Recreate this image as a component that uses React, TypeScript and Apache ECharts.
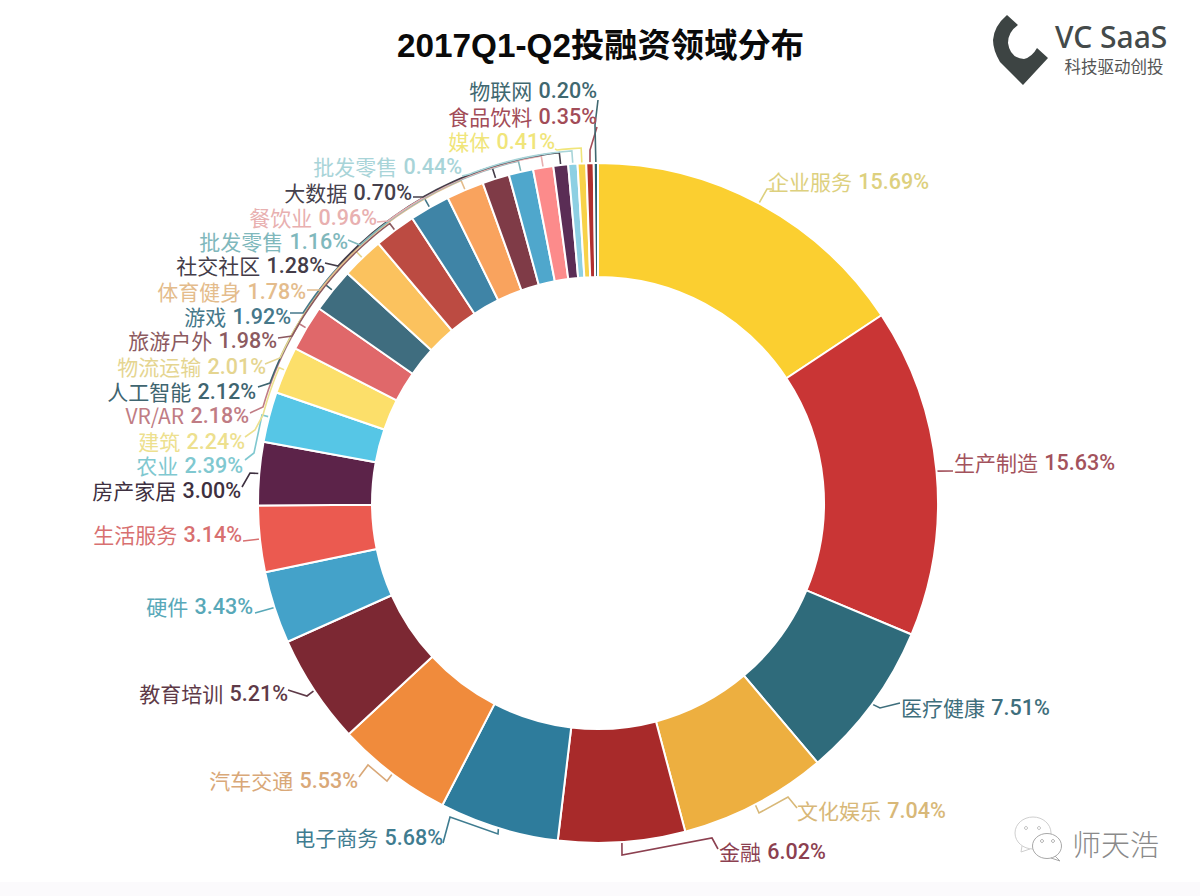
import React, { useEffect, useRef } from "react";
import * as echarts from "echarts";

const names = ["企业服务","生产制造","医疗健康","文化娱乐","金融","电子商务","汽车交通","教育培训","硬件","生活服务","房产家居","农业","建筑","VR/AR","人工智能","物流运输","旅游户外","游戏","体育健身","社交社区","批发零售","餐饮业","大数据","批发零售","媒体","食品饮料","物联网"];
const values = [15.69,15.63,7.51,7.04,6.02,5.68,5.53,5.21,3.43,3.14,3.0,2.39,2.24,2.18,2.12,2.01,1.98,1.92,1.78,1.28,1.16,0.96,0.7,0.44,0.41,0.35,0.2];
const sliceColors = ["#FBCF30","#C93535","#2F6B7B","#EDAF40","#A82A2A","#2E7C9C","#F08B3C","#7C2833","#44A2C9","#EB5A50","#5C2349","#56C6E6","#FCDF6A","#E0686A","#3F6D7F","#FBC25E","#BC4B42","#3F84A6","#F9A35E","#7F3B47","#4FA7CC","#FC8B8B","#5A2D55","#8DD0E3","#F8D249","#B0302F","#2B5F6E"];
const labelColors = ["#DDD07E","#A3525C","#3E6E7C","#D8B878","#8C4050","#3F7C90","#D9A878","#5E3A48","#58A8B8","#D87070","#3E3040","#80C8D0","#EDE08E","#C07C84","#3F6570","#E5D590","#8C5A60","#46788A","#E4BC8C","#443C48","#80B8BC","#E8B0B0","#45404C","#A8D4D8","#F0E57A","#A24C58","#3F6870"];

// Label anchors and leader routes (page pixels)
type Geo = { x: number; y: number; align: string; via: number[][]; arcTo?: number[] };
const labelGeo: Geo[] = [
  { x: 768, y: 181, align: "left", via: [[767,189],[772,189]] },
  { x: 954, y: 462, align: "left", via: [[953,471]] },
  { x: 901, y: 707, align: "left", via: [[880,708],[900,703]] },
  { x: 797, y: 810, align: "left", via: [[759,813],[788,797],[797,808]] },
  { x: 719, y: 851, align: "left", via: [[622,855],[712,838],[718,849]] },
  { x: 443, y: 837, align: "right", via: [[498,834],[450,817],[443,843]] },
  { x: 358, y: 780, align: "right", via: [[387,781],[368,765],[359,777]] },
  { x: 288, y: 693, align: "right", via: [[307,696],[288,690]] },
  { x: 253, y: 606, align: "right", via: [[255,613]] },
  { x: 242, y: 534, align: "right", via: [[243,541]] },
  { x: 241, y: 490, align: "right", via: [[250,473],[242,487]] },
  { x: 243, y: 465, align: "right", via: [[262,415],[254,453],[245,460]] },
  { x: 245, y: 441, align: "right", arcTo: [263,415], via: [[255,430],[245,437]] },
  { x: 249, y: 415, align: "right", arcTo: [263,407], via: [[250,413]] },
  { x: 256, y: 391, align: "right", arcTo: [270,383], via: [[258,387]] },
  { x: 266, y: 366, align: "right", arcTo: [280,358], via: [[265,364]] },
  { x: 277, y: 340, align: "right", arcTo: [292,336], via: [[278,338]] },
  { x: 291, y: 316, align: "right", arcTo: [303,313], via: [[290,313]] },
  { x: 306, y: 291, align: "right", arcTo: [320,290], via: [[307,290]] },
  { x: 325, y: 265, align: "right", arcTo: [338,266], via: [[325,263]] },
  { x: 348, y: 241, align: "right", arcTo: [360,245], via: [[348,240]] },
  { x: 377, y: 217, align: "right", arcTo: [388,221], via: [[377,222]] },
  { x: 412, y: 192, align: "right", arcTo: [423,197], via: [[413,197]] },
  { x: 462, y: 166, align: "right", arcTo: [470,174], via: [[462,176]] },
  { x: 555, y: 141, align: "right", arcTo: [557,150], via: [[555,149]] },
  { x: 597, y: 116, align: "right", via: [[590,150],[597,127]] },
  { x: 597, y: 90, align: "right", via: [[595,125],[598,100]] },
];

const CX = 598, CY = 503, R_OUT = 340, R_IN = 226;
const total = values.reduce((a, b) => a + b, 0);
const polar = (deg: number, r: number) => {
  const a = (deg * Math.PI) / 180;
  return [CX + r * Math.sin(a), CY - r * Math.cos(a)];
};
const midAngles = values.map((_, i) => {
  const before = values.slice(0, i).reduce((a, b) => a + b, 0);
  return ((before + values[i] / 2) / total) * 360;
});
const leaderPoints = (i: number) => {
  const g = labelGeo[i];
  const mid = midAngles[i];
  const pts: number[][] = [polar(mid, R_OUT)];
  if (g.arcTo) {
    const dx = g.arcTo[0] - CX, dy = g.arcTo[1] - CY;
    const r = Math.hypot(dx, dy);
    let end = (Math.atan2(dx, -dy) * 180) / Math.PI;
    if (end < 0) end += 360;
    pts.push(polar(mid, r));
    for (let a = mid - 1.5; a > end; a -= 1.5) pts.push(polar(a, r));
    pts.push(g.arcTo);
  }
  return pts.concat(g.via);
};

const FONT = "Roboto, 'Noto Sans CJK SC', sans-serif";
const CJK = "'Noto Sans CJK SC', sans-serif";

const logoPath = "M1007 15 L1018 25 Q1008 32 1008 43 Q1010 58 1024 59 Q1032 57 1037 48 L1048 58 L1023 85 L1000 62 Q993 50 993 40 Q994 26 1007 15 Z";
echarts.graphic.registerShape("vcLogo", echarts.graphic.extendPath(logoPath, {}) as any);

export default function App() {
  const ref = useRef<HTMLDivElement>(null);
  useEffect(() => {
    document.body.style.margin = "0";
    const chart = echarts.init(ref.current!, undefined, { renderer: "svg" });
    chart.setOption({
      animation: false,
      backgroundColor: "#ffffff",
      title: {
        text: "2017Q1-Q2投融资领域分布",
        left: 595.5,
        top: 24,
        textAlign: "center",
        textStyle: { fontFamily: "'Liberation Sans', 'Noto Sans CJK SC', sans-serif", fontWeight: "bold", fontSize: 33.3, color: "#0a0a0a" },
      },
      series: [
        {
          type: "pie",
          center: [CX, CY],
          radius: [R_IN, R_OUT],
          avoidLabelOverlap: false,
          silent: true,
          itemStyle: { borderColor: "#ffffff", borderWidth: 2 },
          label: {
            show: true,
            position: "outside",
            lineHeight: 22,
            rich: {
              n: { fontFamily: CJK, fontSize: 21, lineHeight: 22 },
              v: { fontFamily: FONT, fontSize: 21.5, fontWeight: 500, lineHeight: 22, padding: [0, 0, 0, 3] },
            },
          },
          labelLine: { show: true, smooth: false },
          labelLayout: (p: any) => {
            const i = p.dataIndex;
            const g = labelGeo[i];
            return { x: g.x, y: g.y, align: g.align, verticalAlign: "middle", labelLinePoints: leaderPoints(i) };
          },
          data: names.map((n, i) => ({
            name: n,
            value: values[i],
            itemStyle: { color: sliceColors[i] },
            label: {
              color: labelColors[i],
              formatter: `{n|${n}} {v|${values[i].toFixed(2)}%}`,
            },
            labelLine: { lineStyle: { color: labelColors[i], width: 1.6 } },
          })),
        },
      ],
      graphic: [
        { type: "rect", silent: true, shape: { x: 0, y: 882, width: 1200, height: 14 }, style: { fill: "#fbfafc" } },
        { type: "vcLogo", silent: true, x: 0, y: 0, style: { fill: "#3d4443" } },
        { type: "text", silent: true, x: 1055, y: 36, style: { text: "VC SaaS", font: "500 30px 'Noto Sans', sans-serif", fill: "#444a4a", verticalAlign: "middle" } },
        { type: "text", silent: true, x: 1114, y: 66, style: { text: "科技驱动创投", font: "16.5px 'Noto Sans CJK SC', sans-serif", fill: "#555", align: "center", verticalAlign: "middle" } },
        { type: "ellipse", silent: true, shape: { cx: 1033, cy: 833, rx: 18, ry: 16 }, style: { fill: "#fff", stroke: "#cfcfcf", lineWidth: 1 } },
        { type: "polyline", silent: true, shape: { points: [[1022,846],[1021,852],[1030,849]] }, style: { fill: "none", stroke: "#cfcfcf", lineWidth: 1 } },
        { type: "ellipse", silent: true, shape: { cx: 1047, cy: 846, rx: 14.5, ry: 12.5 }, style: { fill: "#fff", stroke: "#a8a8a8", lineWidth: 1 } },
        { type: "polyline", silent: true, shape: { points: [[1055,856],[1060,861],[1051,858]] }, style: { fill: "none", stroke: "#a8a8a8", lineWidth: 1 } },
        { type: "circle", silent: true, shape: { cx: 1026, cy: 828, r: 1.5 }, style: { fill: "none", stroke: "#bbb" } },
        { type: "circle", silent: true, shape: { cx: 1039, cy: 828, r: 1.5 }, style: { fill: "none", stroke: "#bbb" } },
        { type: "circle", silent: true, shape: { cx: 1042, cy: 841, r: 1.5 }, style: { fill: "none", stroke: "#aaa" } },
        { type: "circle", silent: true, shape: { cx: 1053, cy: 841, r: 1.5 }, style: { fill: "none", stroke: "#aaa" } },
        { type: "text", silent: true, x: 1072, y: 843, style: { text: "师天浩", font: "200 29px 'Noto Sans CJK SC', sans-serif", fill: "#8a8a8a", verticalAlign: "middle" } },
      ],
    });
    return () => chart.dispose();
  }, []);
  return <div ref={ref} style={{ position: "absolute", left: 0, top: 0, width: 1200, height: 896 }} />;
}
